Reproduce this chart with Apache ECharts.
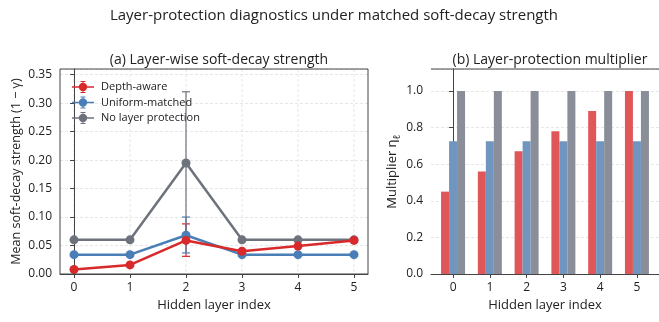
<!DOCTYPE html>
<html><head><meta charset="utf-8">
<script src="https://cdn.jsdelivr.net/npm/echarts@6/dist/echarts.min.js"></script>
<style>html,body{margin:0;padding:0;background:#fff}#c{width:659px;height:322px}</style>
</head><body><div id="c"></div>
<script>
const layers = [0, 1, 2, 3, 4, 5];
const seriesNames = ['Depth-aware', 'Uniform-matched', 'No layer protection'];
// (a) mean soft-decay strength (1 - gamma)
const depthAware = [0.008, 0.016, 0.059, 0.040, 0.049, 0.059];
const uniformMatched = [0.034, 0.034, 0.068, 0.034, 0.034, 0.034];
const noProtection = [0.060, 0.060, 0.195, 0.060, 0.060, 0.060];
// error bar half-widths (lower, upper)
const depthAwareErrLow = [0, 0, 0.028, 0, 0, 0];
const depthAwareErrHigh = [0, 0, 0.029, 0, 0, 0];
const uniformErrLow = [0, 0, 0.031, 0, 0, 0];
const uniformErrHigh = [0, 0, 0.032, 0, 0, 0];
const noProtErrLow = [0, 0, 0.125, 0, 0, 0];
const noProtErrHigh = [0, 0, 0.125, 0, 0, 0];
// (b) layer-protection multiplier
const multDepthAware = [0.45, 0.56, 0.67, 0.78, 0.89, 1.00];
const multUniform = [0.725, 0.725, 0.725, 0.725, 0.725, 0.725];
const multNoProt = [1.0, 1.0, 1.0, 1.0, 1.0, 1.0];
const xTicks = [0, 1, 2, 3, 4, 5];

const lineColors = ['#d8292b', '#4a7eb6', '#6d727d'];
const barColors = ['#e0575a', '#7096bf', '#8a8e98'];
const FONT = 'Open Sans';
const axisColor = '#444';
const gridColor = '#e0e0e0';

const chart = echarts.init(document.getElementById('c'), null, {renderer: 'canvas'});

function pts(arr) { return layers.map((x, i) => [x, arr[i]]); }
function errData(vals, lo, hi) {
  const out = [];
  layers.forEach((x, i) => { if (lo[i] || hi[i]) out.push([x, vals[i] - lo[i], vals[i] + hi[i]]); });
  return out;
}
function errSeries(name, vals, lo, hi, color) {
  return {
    type: 'custom', name: name, xAxisIndex: 0, yAxisIndex: 0, z: 3, silent: true,
    data: errData(vals, lo, hi),
    renderItem: function (params, api) {
      const x = api.value(0);
      const p1 = api.coord([x, api.value(1)]);
      const p2 = api.coord([x, api.value(2)]);
      const cap = 4;
      const st = {stroke: color, lineWidth: 1.2};
      return {type: 'group', children: [
        {type: 'line', shape: {x1: p1[0], y1: p1[1], x2: p2[0], y2: p2[1]}, style: st},
        {type: 'line', shape: {x1: p1[0] - cap, y1: p1[1], x2: p1[0] + cap, y2: p1[1]}, style: st},
        {type: 'line', shape: {x1: p2[0] - cap, y1: p2[1], x2: p2[0] + cap, y2: p2[1]}, style: st}
      ]};
    }
  };
}
// vertical dashed grid lines at x ticks for panel (a)
const vGridSeries = {
  type: 'custom', name: 'vgrid', xAxisIndex: 0, yAxisIndex: 0, z: 0, silent: true,
  data: xTicks.map(v => [v, 0]),
  renderItem: function (params, api) {
    const p = api.coord([api.value(0), 0]);
    const cs = params.coordSys;
    return {type: 'line', shape: {x1: p[0], y1: cs.y, x2: p[0], y2: cs.y + cs.height},
      style: {stroke: gridColor, lineWidth: 0.8, lineDash: [3, 2]}};
  }
};
function lineSeries(name, vals, color) {
  return {
    type: 'line', name: name, xAxisIndex: 0, yAxisIndex: 0, data: pts(vals), z: 4,
    symbol: 'circle', symbolSize: 9, showSymbol: true,
    lineStyle: {color: color, width: 2.5}, itemStyle: {color: color},
    emphasis: {disabled: true}
  };
}
function barSeries(name, vals, color) {
  return {
    type: 'bar', name: name + ' ', xAxisIndex: 1, yAxisIndex: 1, data: pts(vals),
    barWidth: 8, barGap: '0%', itemStyle: {color: color}
  };
}
const legendIcon = 'path://M0,5.2L22,5.2L22,6.8L0,6.8Z M11,1.8A4.2,4.2 0 1 1 10.99,1.8Z M10.5,0L11.5,0L11.5,12L10.5,12Z M8.5,0L13.5,0L13.5,1L8.5,1Z M8.5,11L13.5,11L13.5,12L8.5,12Z';

const gridLine = {show: true, lineStyle: {color: gridColor, type: [3, 2], width: 0.8}};
const axisLabel = {color: '#222', fontFamily: FONT, fontSize: 12};

function xAxisDef(grid, min, max) {
  return {type: 'value', gridIndex: grid, min: min, max: max,
    name: 'Hidden layer index', nameLocation: 'middle', nameGap: 25,
    nameTextStyle: {fontFamily: FONT, fontSize: 13, color: '#222'},
    axisLine: {show: true, onZero: false, lineStyle: {color: axisColor, width: 1}},
    axisTick: {show: true, length: 4, lineStyle: {color: axisColor}, customValues: xTicks},
    axisLabel: Object.assign({}, axisLabel, {customValues: xTicks, formatter: v => String(v)}),
    splitLine: {show: false}};
}

chart.setOption({
  animation: false,
  textStyle: {fontFamily: FONT},
  title: [
    {text: 'Layer-protection diagnostics under matched soft-decay strength', left: 329, top: 3, textAlign: 'center',
      textStyle: {fontFamily: FONT, fontSize: 15, fontWeight: 'normal', color: '#222'}},
    {text: '(a) Layer-wise soft-decay strength', left: 214, top: 48, textAlign: 'center',
      textStyle: {fontFamily: FONT, fontSize: 14, fontWeight: 'normal', color: '#222'}},
    {text: '(b) Layer-protection multiplier', left: 545, top: 48, textAlign: 'center',
      textStyle: {fontFamily: FONT, fontSize: 14, fontWeight: 'normal', color: '#222'}}
  ],
  legend: {
    data: seriesNames.map((n, i) => ({name: n, icon: legendIcon, itemStyle: {color: lineColors[i]}})),
    orient: 'vertical', left: 67, top: 76, itemWidth: 22, itemHeight: 12, itemGap: 3.5,
    textStyle: {fontFamily: FONT, fontSize: 11, color: '#222', padding: [0, 0, 0, 2]},
    selectedMode: false
  },
  grid: [
    {left: 60, top: 69, width: 308, height: 205},
    {left: 431, top: 69, width: 228, height: 205}
  ],
  xAxis: [
    xAxisDef(0, -0.25, 5.25),
    xAxisDef(1, -0.6, 5.6)
  ],
  yAxis: [
    {type: 'value', gridIndex: 0, min: 0, max: 0.36, interval: 0.05,
      name: 'Mean soft-decay strength (1 − γ)', nameLocation: 'middle', nameGap: 37,
      nameTextStyle: {fontFamily: FONT, fontSize: 12.5, color: '#222'},
      axisLine: {show: true, lineStyle: {color: axisColor, width: 1}},
      axisTick: {show: true, length: 4, lineStyle: {color: axisColor}},
      axisLabel: Object.assign({}, axisLabel, {formatter: v => v.toFixed(2), showMaxLabel: false}),
      splitLine: gridLine},
    {type: 'value', gridIndex: 1, min: 0, max: 1.12, interval: 0.2,
      name: 'Multiplier η{s|ℓ}', nameLocation: 'middle', nameGap: 30,
      nameTextStyle: {fontFamily: FONT, fontSize: 13, color: '#222', rich: {s: {fontFamily: FONT, fontSize: 10, color: '#222', verticalAlign: 'bottom', padding: [0,0,-3,0]}}},
      axisLine: {show: true, lineStyle: {color: axisColor, width: 1}},
      axisTick: {show: true, length: 4, lineStyle: {color: axisColor}},
      axisLabel: Object.assign({}, axisLabel, {formatter: v => v.toFixed(1), showMaxLabel: false}),
      splitLine: gridLine}
  ],
  graphic: [
    {type: 'rect', shape: {x: 60, y: 69, width: 308, height: 205}, style: {fill: 'none', stroke: axisColor, lineWidth: 1}, silent: true, z: 10},
    {type: 'line', shape: {x1: 431, y1: 69, x2: 659, y2: 69}, style: {stroke: axisColor, lineWidth: 1}, silent: true, z: 10}
  ],
  series: [
    vGridSeries,
    errSeries('Depth-aware', depthAware, depthAwareErrLow, depthAwareErrHigh, lineColors[0]),
    errSeries('Uniform-matched', uniformMatched, uniformErrLow, uniformErrHigh, lineColors[1]),
    errSeries('No layer protection', noProtection, noProtErrLow, noProtErrHigh, lineColors[2]),
    lineSeries('No layer protection', noProtection, lineColors[2]),
    lineSeries('Uniform-matched', uniformMatched, lineColors[1]),
    lineSeries('Depth-aware', depthAware, lineColors[0]),
    barSeries('Depth-aware', multDepthAware, barColors[0]),
    barSeries('Uniform-matched', multUniform, barColors[1]),
    barSeries('No layer protection', multNoProt, barColors[2])
  ]
});
</script></body></html>
